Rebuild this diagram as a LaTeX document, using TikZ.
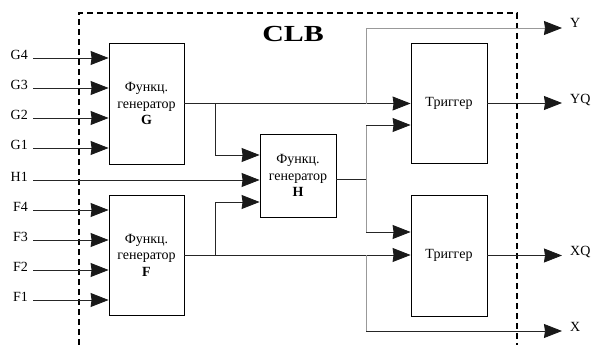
\documentclass[tikz,border=0pt]{standalone}
\usepackage{fontspec}
\usepackage{graphicx}
\setmainfont{Liberation Serif}
\usetikzlibrary{arrows.meta}
\begin{document}
\begin{tikzpicture}[x=1pt,y=-1pt,
  blk/.style={draw, line width=0.8pt, minimum width=75pt, inner sep=0pt, align=center, font=\fontsize{14}{16.5}\selectfont},
  lbl/.style={inner sep=0pt, font=\fontsize{14}{14}\selectfont},
  wire/.style={line width=0.8pt, draw=black!85},
  lwire/.style={line width=0.8pt, draw=black!40},
  tip/.style={-{Stealth[length=18pt,width=14pt,inset=1pt,color=black!90]}},
  arr/.style={wire, tip},
  larr/.style={lwire, tip},
  clb/.style={line width=1.6pt, dash pattern=on 6pt off 4pt}]
\useasboundingbox (0,0) rectangle (592,345);
% CLB border
\draw[clb] (79,345) -- (79,13) -- (517,13) -- (517,345);
\node[inner sep=0pt] (title) at (293,34) {\scalebox{1.3}[1]{\fontsize{23}{23}\selectfont\bfseries CLB}};
% blocks
\node[blk, minimum height=121pt] (G) at (146.5,103.5) {Функц.\\генератор\\\textbf{G}};
\node[blk, minimum height=120pt] (F) at (146.5,255) {Функц.\\генератор\\\textbf{F}};
\node[blk, minimum width=76pt, minimum height=83pt] (H) at (298,175.5) {Функц.\\генератор\\\textbf{H}};
\node[blk, minimum width=76pt, minimum height=120pt] (T1) at (449,103) {Триггер};
\node[blk, minimum width=76pt, minimum height=121pt] (T2) at (449,255.5) {Триггер};
% input labels
\node[lbl, anchor=east] (G4) at (28,55) {G4};
\node[lbl, anchor=east] (G3) at (28,85) {G3};
\node[lbl, anchor=east] (G2) at (28,115) {G2};
\node[lbl, anchor=east] (G1) at (28,145) {G1};
\node[lbl, anchor=east] (H1) at (28,177) {H1};
\node[lbl, anchor=east] (F4) at (28,207) {F4};
\node[lbl, anchor=east] (F3) at (28,237) {F3};
\node[lbl, anchor=east] (F2) at (28,267) {F2};
\node[lbl, anchor=east] (F1) at (28,297) {F1};
% output labels
\node[lbl, anchor=west] (Y) at (570,23) {Y};
\node[lbl, anchor=west] (YQ) at (570,100) {YQ};
\node[lbl, anchor=west] (XQ) at (570,252) {XQ};
\node[lbl, anchor=west] (X) at (570,327) {X};
% coordinates
\coordinate (gb) at (215,103.5);
\coordinate (fb) at (215,255);
\coordinate (ho) at (336,179);
\coordinate (hb) at (366,179);
\coordinate (yb) at (366,103.5);
\coordinate (xb) at (366,255);
\coordinate (ytop) at (366,28);
\coordinate (xbot) at (366,331);
\coordinate (yend) at (562,28);
\coordinate (xend) at (562,331);
\coordinate (yqend) at (562,103);
\coordinate (xqend) at (562,255.5);
% inputs
\foreach \n in {G4,G3,G2,G1}{\draw[arr] ([xshift=5pt,yshift=-3pt]\n.east) -- ([yshift=-3pt]\n.east -| G.west);}
\foreach \n in {F4,F3,F2,F1}{\draw[arr] ([xshift=5pt,yshift=-3pt]\n.east) -- ([yshift=-3pt]\n.east -| F.west);}
\draw[arr] ([xshift=5pt,yshift=-3pt]H1.east) -- ([yshift=-3pt]H1.east -| H.west);
% G output
\draw[arr] (G.east) -- (G.east -| T1.west);
\draw[arr] (gb) -- (gb |- 0,155) -- (H.west |- 0,155);
% F output
\draw[arr] (F.east) -- (F.east -| T2.west);
\draw[arr] (fb) -- (fb |- 0,202) -- (H.west |- 0,202);
% H output
\draw[wire] (ho) -- (hb);
\draw[lwire] (hb) -- (hb |- 0,125);
\draw[lwire] (hb) -- (hb |- 0,232);
\draw[arr] (hb |- 0,125) -- (T1.west |- 0,125);
\draw[arr] (hb |- 0,232) -- (T2.west |- 0,232);
% Y and X
\draw[lwire] (yb) -- (ytop);
\draw[larr] (ytop) -- (yend);
\draw[lwire] (xb) -- (xbot);
\draw[arr] (xbot) -- (xend);
% flip-flop outputs
\draw[arr] (T1.east) -- (yqend);
\draw[arr] (T2.east) -- (xqend);
\end{tikzpicture}
\end{document}
